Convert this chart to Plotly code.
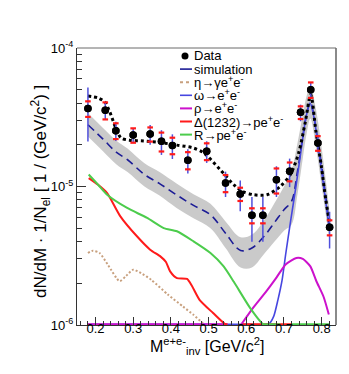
import plotly.graph_objects as go

# ---------------- data ----------------
data_x = [0.180, 0.226, 0.254, 0.300, 0.345, 0.375, 0.404, 0.445, 0.495, 0.545,
          0.584, 0.615, 0.644, 0.680, 0.715, 0.744, 0.771, 0.790, 0.821]
data_y = [3.65e-5, 3.55e-5, 2.53e-5, 2.35e-5, 2.39e-5, 2.12e-5, 1.98e-5, 1.55e-5, 1.80e-5, 1.06e-5,
          8.83e-6, 6.19e-6, 6.19e-6, 1.12e-5, 1.29e-5, 3.43e-5, 5.00e-5, 2.06e-5, 5.07e-6]
stat_err = [1.54e-5, 0.52e-5, 0.40e-5, 0.29e-5, 0.39e-5, 0.43e-5, 0.40e-5, 0.31e-5, 0.32e-5, 0.22e-5,
            2.2e-6, 2.2e-6, 2.2e-6, 0.28e-5, 0.30e-5, 0.47e-5, 0.62e-5, 0.30e-5, 1.5e-6]
sys_err = [0.47e-5, 0.50e-5, 0.33e-5, 0.28e-5, 0.28e-5, 0.33e-5, 0.27e-5, 0.22e-5, 0.25e-5, 0.15e-5,
           0.97e-6, 0.77e-6, 0.77e-6, 0.23e-5, 0.20e-5, 0.36e-5, 0.64e-5, 0.25e-5, 0.63e-6]

total_x = [0.180, 0.207, 0.225, 0.238, 0.254, 0.268, 0.290, 0.328, 0.370, 0.416, 0.459, 0.487,
           0.531, 0.567, 0.590, 0.620, 0.655, 0.690, 0.717, 0.739, 0.756, 0.771, 0.785, 0.799,
           0.811, 0.822]
total_y = [4.50e-5, 4.36e-5, 4.07e-5, 3.45e-5, 2.64e-5, 2.24e-5, 2.16e-5, 2.13e-5, 2.08e-5, 1.99e-5,
           1.90e-5, 1.75e-5, 1.32e-5, 1.03e-5, 9.2e-6, 8.72e-6, 8.72e-6, 1.00e-5, 1.22e-5, 1.75e-5,
           2.87e-5, 4.6e-5, 2.47e-5, 1.41e-5, 8.0e-6, 5.27e-6]

sim_x = [0.180, 0.220, 0.255, 0.285, 0.330, 0.370, 0.415, 0.460, 0.505, 0.545, 0.585, 0.615,
         0.645, 0.675, 0.700, 0.720, 0.735, 0.750, 0.760, 0.770, 0.785, 0.800, 0.820]
sim_y = [2.79e-5, 2.20e-5, 1.77e-5, 1.56e-5, 1.22e-5, 1.05e-5, 8.7e-6, 7.3e-6, 6.25e-6, 4.6e-6,
         3.45e-6, 3.6e-6, 4.3e-6, 5.5e-6, 6.8e-6, 7.8e-6, 1.25e-5, 2.3e-5, 3.3e-5, 4.05e-5,
         2.6e-5, 1.4e-5, 5.4e-6]
band_hi = [3.4e-5, 2.65e-5, 2.15e-5, 1.88e-5, 1.47e-5, 1.27e-5, 1.05e-5, 8.8e-6, 7.5e-6, 5.6e-6,
           4.3e-6, 4.5e-6, 5.6e-6, 7.6e-6, 1.0e-5, 1.3e-5, 2.0e-5, 3.3e-5, 4.5e-5, 5.3e-5,
           3.6e-5, 1.9e-5, 7.0e-6]
band_lo = [2.3e-5, 1.8e-5, 1.45e-5, 1.27e-5, 1.0e-5, 8.6e-6, 7.0e-6, 5.9e-6, 5.0e-6, 3.6e-6,
           2.6e-6, 2.6e-6, 3.2e-6, 4.0e-6, 4.8e-6, 5.3e-6, 8.5e-6, 1.6e-5, 2.4e-5, 3.1e-5,
           1.9e-5, 1.0e-5, 4.2e-6]

eta_x = [0.180, 0.193, 0.211, 0.233, 0.264, 0.281, 0.300, 0.321, 0.348, 0.392, 0.432, 0.459, 0.485, 0.490]
eta_y = [3.31e-6, 3.44e-6, 3.31e-6, 2.72e-6, 2.07e-6, 2.26e-6, 2.51e-6, 2.37e-6, 2.12e-6, 1.66e-6,
         1.36e-6, 1.19e-6, 1.03e-6, 0]

omega_x = [0.180, 0.400, 0.550, 0.600, 0.660, 0.673, 0.684, 0.695, 0.705, 0.718, 0.732, 0.745,
           0.758, 0.769, 0.780, 0.793, 0.806, 0.821]
omega_y = [0, 0, 0, 0, 1.02e-6, 1.16e-6, 1.52e-6, 2.11e-6, 3.31e-6, 5.73e-6, 1.01e-5, 1.80e-5,
           3.12e-5, 4.01e-5, 3.12e-5, 1.75e-5, 9.75e-6, 4.8e-6]

rho_x = [0.180, 0.300, 0.420, 0.550, 0.570, 0.587, 0.618, 0.653, 0.680, 0.705, 0.733, 0.750,
         0.770, 0.786, 0.805, 0.819]
rho_y = [0, 0, 0, 0, None, 0, 1.33e-6, 1.75e-6, 2.2e-6, 2.75e-6, 3.05e-6, 3.0e-6,
         2.65e-6, 2.07e-6, 1.6e-6, 1.19e-6]

delta_x = [0.182, 0.207, 0.231, 0.266, 0.310, 0.345, 0.372, 0.387, 0.398, 0.416, 0.443, 0.456,
           0.476, 0.512, 0.543, 0.550, 0.570, 0.590, 0.720]
delta_y = [1.15e-5, 1.03e-5, 8.97e-6, 6.09e-6, 4.37e-6, 3.50e-6, 3.13e-6, 2.85e-6, 2.44e-6, 2.18e-6,
           2.15e-6, 1.91e-6, 1.52e-6, 1.22e-6, 1.02e-6, 0, None, 0, 0]

res_x = [0.182, 0.207, 0.231, 0.284, 0.337, 0.381, 0.416, 0.460, 0.505, 0.540, 0.567, 0.610,
         0.644, 0.655, 0.690, 0.705, 0.720, 0.820]
res_y = [1.22e-5, 1.03e-5, 8.72e-6, 7.0e-6, 5.93e-6, 5.01e-6, 4.75e-6, 4.02e-6, 3.31e-6, 2.65e-6,
         2.05e-6, 1.33e-6, 1.02e-6, 0, 0, None, 0, 0]

x_ticks = [0.2, 0.3, 0.4, 0.5, 0.6, 0.7, 0.8]
x_ticktext = ["0.2", "0.3", "0.4", "0.5", "0.6", "0.7", "0.8"]
y_ticks = [1e-6, 1e-5, 1e-4]
y_ticktext = ["10<sup>-6</sup>", "10<sup>-5</sup>", "10<sup>-4</sup>"]

labels = ["Data", "simulation", "η→γe<sup>+</sup>e<sup>-</sup>", "ω→e<sup>+</sup>e<sup>-</sup>",
          "ρ→e<sup>+</sup>e<sup>-</sup>", "Δ(1232)→pe<sup>+</sup>e<sup>-</sup>", "R→pe<sup>+</sup>e<sup>-</sup>"]
x_title = "M<sup>e+e-</sup><sub>inv</sub> [GeV/c<sup>2</sup>]"
y_title = "dN/dM · 1/N<sub>el</sub> [ 1 / (GeV/c<sup>2</sup>) ]"

# ---------------- styles ----------------
FLOOR = 1.012e-6   # zero values are drawn on the lower edge of the log axis
FONT = "Liberation Sans, Arial, Helvetica, sans-serif"
C_SIM = "#1c1c96"
C_ETA = "#c8a07e"
C_OMEGA = "#4646e0"
C_RHO = "#cc11cc"
C_DELTA = "#ff1a1a"
C_RES = "#4ccc4c"
C_STAT = "#5050dc"


def floor(vals):
    return [None if v is None else max(v, FLOOR) for v in vals]


fig = go.Figure()

# systematic band of the simulation
fig.add_trace(go.Scatter(x=sim_x, y=band_lo, mode="lines", line=dict(width=0, shape="spline"),
                         hoverinfo="skip", showlegend=False))
fig.add_trace(go.Scatter(x=sim_x, y=band_hi, mode="lines", line=dict(width=0, shape="spline"),
                         fill="tonexty", fillcolor="#cacaca", hoverinfo="skip", showlegend=False))
fig.add_trace(go.Scatter(x=sim_x, y=sim_y, mode="lines", name=labels[1], showlegend=False,
                         line=dict(color=C_SIM, width=1.6, dash="8px,5px", shape="spline")))

comps = [
    (eta_x, eta_y, labels[2], dict(color=C_ETA, width=2, dash="2px,2px")),
    (omega_x, omega_y, labels[3], dict(color=C_OMEGA, width=1.6)),
    (rho_x, rho_y, labels[4], dict(color=C_RHO, width=2)),
    (delta_x, delta_y, labels[5], dict(color=C_DELTA, width=2)),
    (res_x, res_y, labels[6], dict(color=C_RES, width=2)),
]
for cx, cy, nm, ln in comps:
    ln = dict(ln, shape="spline", smoothing=0.6)
    fig.add_trace(go.Scatter(x=cx, y=floor(cy), mode="lines", name=nm, showlegend=False,
                             connectgaps=False, line=ln))

fig.add_trace(go.Scatter(x=total_x, y=total_y, mode="lines", showlegend=False,
                         line=dict(color="black", width=3, dash="dot", shape="spline", smoothing=0.8)))

# data with statistical errors
fig.add_trace(go.Scatter(x=data_x, y=data_y, mode="markers", name=labels[0], showlegend=False,
                         marker=dict(color="black", size=7.5),
                         error_y=dict(type="data", array=stat_err, color=C_STAT, thickness=1.5, width=0)))
# systematic error caps
cap_x = data_x + data_x
cap_y = [y + s for y, s in zip(data_y, sys_err)] + [y - s for y, s in zip(data_y, sys_err)]
fig.add_trace(go.Scatter(x=cap_x, y=cap_y, mode="markers", showlegend=False, hoverinfo="skip",
                         marker=dict(symbol="line-ew", size=4, color=C_DELTA,
                                     line=dict(color=C_DELTA, width=2.2))))
fig.add_trace(go.Scatter(x=data_x, y=data_y, mode="markers", showlegend=False, hoverinfo="skip",
                         marker=dict(color="black", size=7.5)))

# ---------------- manual legend (ROOT style) ----------------
L, R, T, B = 69, 328, 40, 317
W, H = 349, 374


def px_x(p):
    return (p - L) / (R - L)


def px_y(p):
    return (B - p) / (B - T)


leg_styles = [
    None,
    dict(color=C_SIM, width=1.6),
    dict(color=C_ETA, width=2, dash="dot"),
    dict(color=C_OMEGA, width=1.6),
    dict(color=C_RHO, width=2),
    dict(color=C_DELTA, width=2),
    dict(color=C_RES, width=2),
]
shapes = []
annotations = []
for i, (lab, st) in enumerate(zip(labels, leg_styles)):
    yrow = 48 + 13.1 * i
    if st is None:
        shapes.append(dict(type="circle", xref="paper", yref="paper", xsizemode="pixel",
                           ysizemode="pixel", xanchor=px_x(177), yanchor=px_y(yrow),
                           x0=-3.5, x1=3.5, y0=-3.5, y1=3.5,
                           fillcolor="black", line=dict(color="black", width=0)))
    else:
        shapes.append(dict(type="line", xref="paper", yref="paper", x0=px_x(172), x1=px_x(184),
                           y0=px_y(yrow), y1=px_y(yrow), line=st))
    annotations.append(dict(text=lab, x=px_x(185), y=px_y(yrow), xref="paper", yref="paper",
                            xanchor="left", yanchor="middle", showarrow=False, borderpad=0,
                            font=dict(size=13, color="black", family=FONT)))

# axis titles
annotations.append(dict(text=x_title, x=0.5, y=px_y(338), xref="paper", yref="paper",
                        xanchor="center", yanchor="middle", showarrow=False,
                        font=dict(size=16, color="black", family=FONT)))
annotations.append(dict(text=y_title, x=px_x(32), y=px_y(184), xref="paper", yref="paper",
                        xanchor="center", yanchor="middle", showarrow=False, textangle=-90,
                        font=dict(size=17, color="black", family=FONT)))

# right/top frame in grey
shapes.append(dict(type="line", xref="paper", yref="paper", x0=1, x1=1, y0=0, y1=1,
                   line=dict(color="#8a8a8a", width=2)))
shapes.append(dict(type="line", xref="paper", yref="paper", x0=0, x1=1, y0=1, y1=1,
                   line=dict(color="#6a6a6a", width=1)))

x_minor = [round(0.16 + 0.02 * k, 2) for k in range(34) if round(0.16 + 0.02 * k, 2) <= 0.836]
y_minor = [m * 10 ** e for e in (-6, -5) for m in range(2, 10)]

fig.update_layout(
    width=W, height=H,
    margin=dict(l=L, r=W - R, t=T, b=H - B, autoexpand=False),
    paper_bgcolor="white", plot_bgcolor="white",
    font=dict(family=FONT, color="black", size=13),
    shapes=shapes, annotations=annotations,
    showlegend=False,
    xaxis=dict(range=[0.151, 0.838], tickmode="array", tickvals=x_ticks, ticktext=x_ticktext,
               ticks="inside", ticklen=8, tickwidth=1, tickcolor="#333",
               minor=dict(tickmode="array", tickvals=x_minor, ticks="inside", ticklen=4,
                          tickcolor="#333", tickwidth=1),
               showline=True, linecolor="#333", linewidth=1, showgrid=False, zeroline=False,
               tickfont=dict(size=13), automargin=False, ticklabelstandoff=-9),
    yaxis=dict(type="log", range=[-6, -4], tickmode="array", tickvals=y_ticks, ticktext=y_ticktext,
               ticks="inside", ticklen=9, tickwidth=1, tickcolor="#333",
               minor=dict(tickmode="array", tickvals=y_minor, ticks="inside", ticklen=5,
                          tickcolor="#333", tickwidth=1),
               showline=True, linecolor="#333", linewidth=1, showgrid=False, zeroline=False,
               tickfont=dict(size=13), automargin=False),
)

fig.write_html("out.html")
